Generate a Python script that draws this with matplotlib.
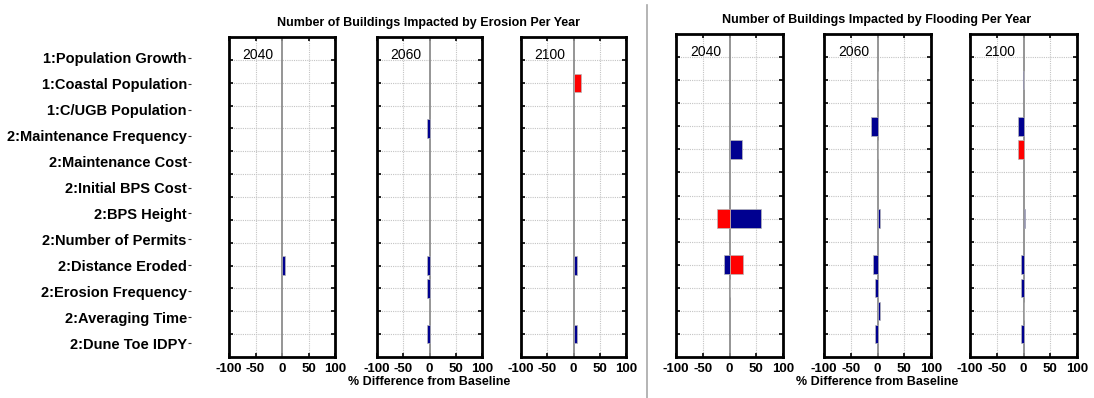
import numpy as np
import matplotlib
matplotlib.use("Agg")
import matplotlib.pyplot as plt
from matplotlib.lines import Line2D

plt.rcParams['font.family'] = ['Liberation Sans', 'DejaVu Sans']

# ---------------- data ----------------
categories = ["1:Population Growth", "1:Coastal Population", "1:C/UGB Population",
              "2:Maintenance Frequency", "2:Maintenance Cost", "2:Initial BPS Cost",
              "2:BPS Height", "2:Number of Permits", "2:Distance Eroded",
              "2:Erosion Frequency", "2:Averaging Time", "2:Dune Toe IDPY"]
years = ["2040", "2060", "2100"]
row_count = 13  # number of bar rows drawn in each panel

erosion_2040_blue = [0, 0, 0, 0, 0, 0, 0, 0, 0, 6, 0, 0, 0]
erosion_2040_red = [0, 0, 0, 0, 0, 0, 0, 0, 0, 0, 0, 0, 0]
erosion_2060_blue = [0, 0, 0, -4.5, 0, 0, 0, 0, 0, -4.5, -4.5, 0, -4.5]
erosion_2060_red = [0, 0, 0, 0, 0, 0, 0, 0, 0, 0, 0, 0, 0]
erosion_2100_blue = [0, 0, 0, 0, 0, 0, 0, 0, 0, 7, 0, 0, 7]
erosion_2100_red = [0, 14, 0, 0, 0, 0, 0, 0, 0, 0, 0, 0, 0]

flood_2040_blue = [0, 0, 0, 0, 23, 0, 0, 58, 0, -11, 0.8, 0, 0]
flood_2040_red = [0, 0, 0, 0, 0, 0, 0, -24, 0, 25, 0, 0, 0]
flood_2060_blue = [0, 0.5, 0, -12, 0.5, 0, 0, 4, 0, -7.5, -5.5, 5.5, -5.5]
flood_2060_red = [0, 0, 0, 0, 0, 0, 0, 0, 0, 0, 0, 0, 0]
flood_2100_blue = [0, -1.5, 0, -10.5, 0, 0, 0, 2.5, 0, -5.5, -5, 0.5, -5.5]
flood_2100_red = [0, 1, 0, 0, -9.5, 0, 0, 0, 0, 0, 0, 0, 0]

erosion_blue = [erosion_2040_blue, erosion_2060_blue, erosion_2100_blue]
erosion_red = [erosion_2040_red, erosion_2060_red, erosion_2100_red]
flood_blue = [flood_2040_blue, flood_2060_blue, flood_2100_blue]
flood_red = [flood_2040_red, flood_2060_red, flood_2100_red]

xticks = [-100, -50, 0, 50, 100]
titles = ["Number of Buildings Impacted by Erosion Per Year",
          "Number of Buildings Impacted by Flooding Per Year"]
xlabel = "% Difference from Baseline"

# ---------------- layout ----------------
W, H = 1094, 398
fig = plt.figure(figsize=(W / 100, H / 100), dpi=100)

BLUE = "#000090"
RED = "#ff0000"


def fpos(x0, x1, ytop, ybot):
    return [x0 / W, 1 - ybot / H, (x1 - x0) / W, (ybot - ytop) / H]


left_x = [(229, 335), (377, 482), (521, 626)]
right_x = [(676, 783), (824, 931), (970, 1077)]


def draw_panel(rect, blue, red, year, xlab=None):
    ax = fig.add_axes(rect)
    y = np.arange(1, row_count + 1)
    b = np.array(blue, dtype=float)
    r = np.array(red, dtype=float)
    mb = b != 0
    mr = r != 0
    ax.barh(y[mb], b[mb], height=0.8, color=BLUE, edgecolor="#b8b8b8", linewidth=0.5, zorder=3)
    ax.barh(y[mr], r[mr], height=0.8, color=RED, edgecolor="#b8b8b8", linewidth=0.5, zorder=3)
    ax.set_xlim(-100, 100)
    ax.set_ylim(row_count + 1, 0)
    ax.set_xticks(xticks)
    ax.set_xticklabels([str(t) for t in xticks], fontsize=9.5, fontweight="bold")
    ax.set_yticks(y)
    ax.set_yticklabels([])
    for gx in [-50, 50]:
        ax.axvline(gx, color="#c4c4c4", lw=0.8, ls=(0, (1, 1)), zorder=1)
    for gy in y:
        ax.axhline(gy, color="#c4c4c4", lw=0.8, ls=(0, (1, 1)), zorder=1)
    ax.axvline(0, color="#8c8c8c", lw=1.3, zorder=2)
    ax.tick_params(direction="in", length=3, width=1.2, top=True, right=True,
                   bottom=True, left=True, pad=4)
    for s in ax.spines.values():
        s.set_linewidth(2)
    ax.text(-45, 0.8, year, ha="center", va="center", fontsize=10)
    if xlab:
        ax.set_xlabel(xlab, fontsize=9, fontweight="bold", labelpad=1)
    return ax


for i, (x0, x1) in enumerate(left_x):
    draw_panel(fpos(x0, x1, 37, 357), erosion_blue[i], erosion_red[i], years[i],
               xlabel if i == 1 else None)
for i, (x0, x1) in enumerate(right_x):
    draw_panel(fpos(x0, x1, 34, 357), flood_blue[i], flood_red[i], years[i],
               xlabel if i == 1 else None)

# titles
fig.text(428.5 / W, 1 - 23 / H, titles[0], ha="center", va="center", fontsize=9, fontweight="bold")
fig.text(877 / W, 1 - 20 / H, titles[1], ha="center", va="center", fontsize=9, fontweight="bold")

# category label axis
lab = fig.add_axes(fpos(191, 192, 45, 356))
lab.set_ylim(len(categories) + 0.5, 0.5)
lab.set_yticks(np.arange(1, len(categories) + 1))
lab.set_yticklabels(categories, fontsize=10.5, fontweight="bold")
lab.set_xticks([])
lab.tick_params(axis="y", direction="out", length=2, width=0.8, pad=1, colors="#333333",
                labelcolor="black")
for s in lab.spines.values():
    s.set_visible(False)
lab.patch.set_alpha(0)

# separator line
fig.add_artist(Line2D([647 / W, 647 / W], [0, 1 - 5 / H], transform=fig.transFigure,
                      color="#a8a8a8", lw=1.2))

fig.savefig("out.png", dpi=100)
